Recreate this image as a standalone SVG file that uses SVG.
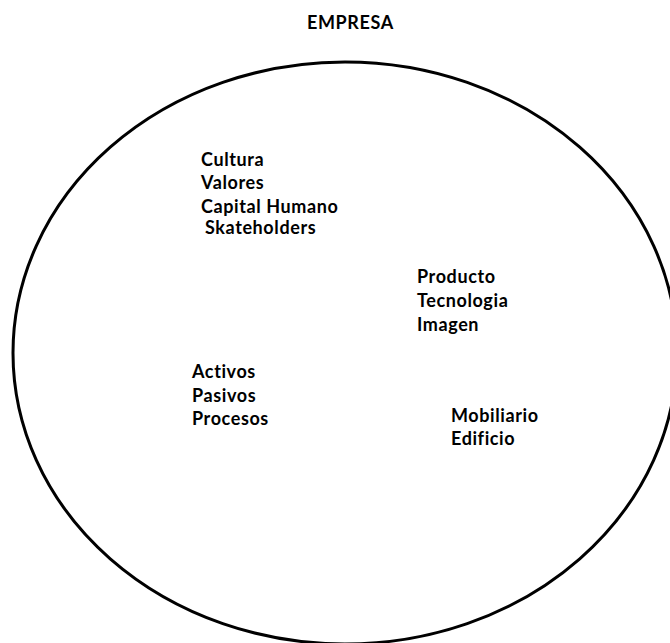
<svg xmlns="http://www.w3.org/2000/svg" width="670" height="643" viewBox="0 0 670 643">
<style>
.t{font-family:Lato,"Open Sans","Liberation Sans",sans-serif;font-weight:bold;font-size:18px;letter-spacing:0.6px;fill:#000}
</style>
<rect width="670" height="643" fill="#fff"/>
<g id="empresa-title"><text class="t" x="307" y="29">EMPRESA</text></g>
<g id="empresa-ellipse"><ellipse cx="345" cy="353" rx="332" ry="291" fill="none" stroke="#000" stroke-width="3"/></g>
<g id="grupo-cultura">
<text class="t" x="201" y="166">Cultura</text>
<text class="t" x="201" y="189">Valores</text>
<text class="t" x="201" y="213">Capital Humano</text>
<text class="t" x="205" y="234">Skateholders</text>
</g>
<g id="grupo-producto">
<text class="t" x="417" y="283">Producto</text>
<text class="t" x="417" y="307">Tecnologia</text>
<text class="t" x="417" y="331">Imagen</text>
</g>
<g id="grupo-activos">
<text class="t" x="192" y="378">Activos</text>
<text class="t" x="192" y="402">Pasivos</text>
<text class="t" x="192" y="425">Procesos</text>
</g>
<g id="grupo-mobiliario">
<text class="t" x="451" y="422">Mobiliario</text>
<text class="t" x="451" y="445">Edificio</text>
</g>
</svg>
